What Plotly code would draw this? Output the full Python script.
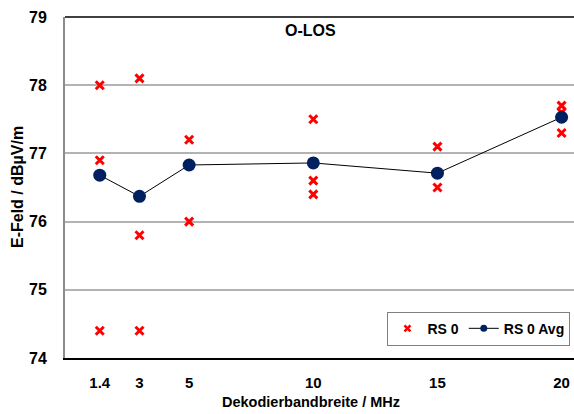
import plotly.graph_objects as go

# Data
bandwidths = [1.4, 3, 5, 10, 15, 20]
rs0_x = [1.4, 1.4, 1.4, 3, 3, 3, 5, 5, 10, 10, 10, 15, 15, 20, 20, 20]
rs0_y = [78.0, 76.9, 74.4, 78.1, 75.8, 74.4, 77.2, 76.0, 77.5, 76.6, 76.4, 77.1, 76.5, 77.7, 77.6, 77.3]
rs0_avg = [76.68, 76.37, 76.83, 76.86, 76.71, 77.53]
x_ticks = [1.4, 3, 5, 10, 15, 20]
x_tick_labels = ["1.4", "3", "5", "10", "15", "20"]
y_ticks = [74, 75, 76, 77, 78, 79]

FONT = "Liberation Sans, Arial, sans-serif"
RED = "#ff0000"
NAVY = "#002060"

fig = go.Figure()
fig.add_trace(go.Scatter(
    x=rs0_x, y=rs0_y, mode="markers", name="RS 0", showlegend=False,
    legendgroup="rs0",
    marker=dict(symbol="x-thin", size=8, color=RED, line=dict(color=RED, width=3)),
))
fig.add_trace(go.Scatter(
    x=bandwidths, y=rs0_avg, mode="lines+markers", name="RS 0 Avg", showlegend=False,
    legendgroup="avg",
    line=dict(color="#000000", width=1),
    marker=dict(symbol="circle", size=13, color=NAVY),
))
# legend-only entries (no data) with smaller glyphs, like the reference legend
fig.add_trace(go.Scatter(
    x=[None], y=[None], mode="markers", name="RS 0", legendgroup="rs0",
    marker=dict(symbol="x-thin", size=6, color=RED, line=dict(color=RED, width=2.5)),
))
fig.add_trace(go.Scatter(
    x=[None], y=[None], mode="lines+markers", name="RS 0 Avg", legendgroup="avg",
    line=dict(color="#000000", width=1),
    marker=dict(symbol="circle", size=7, color=NAVY),
))

fig.update_layout(
    width=574, height=414,
    margin=dict(l=65, r=0, t=17, b=56),
    paper_bgcolor="white", plot_bgcolor="white",
    font=dict(family=FONT, color="#000000"),
    showlegend=True,
    legend=dict(
        x=0.993, y=0.036, xanchor="right", yanchor="bottom",
        orientation="h", bordercolor="#808080", borderwidth=1,
        bgcolor="white", font=dict(family=FONT, size=14, weight="bold"),
        itemclick=False, itemdoubleclick=False,
    ),
    xaxis=dict(
        range=[0, 20.5], tickvals=x_ticks, ticktext=x_tick_labels,
        showgrid=False, zeroline=False,
        showline=True, linecolor="#000000", linewidth=1.5,
        ticks="", ticklabelstandoff=10,
        tickfont=dict(family=FONT, size=15, weight="bold"),
    ),
    yaxis=dict(
        range=[74, 79], tickvals=y_ticks,
        showgrid=True, gridcolor="#b3b3b3", gridwidth=1.5,
        zeroline=False,
        showline=True, linecolor="#8c8c8c", linewidth=2,
        ticks="", ticklabelstandoff=13,
        tickfont=dict(family=FONT, size=16, weight="bold"),
    ),
    annotations=[
        dict(text="O-LOS", xref="paper", yref="paper", x=(310.5 - 65) / 509, y=(358 - 31) / 341,
             xanchor="center", yanchor="middle", showarrow=False,
             font=dict(family=FONT, size=16, weight="bold")),
        dict(text="Dekodierbandbreite / MHz", xref="paper", yref="paper",
             x=(311 - 65) / 509, y=(358 - 402) / 341, xanchor="center", yanchor="middle",
             showarrow=False, font=dict(family=FONT, size=14.5, weight="bold")),
        dict(text="E-Feld / dBµV/m", xref="paper", yref="paper",
             x=(17 - 65) / 509, y=(358 - 187) / 341, xanchor="center", yanchor="middle",
             showarrow=False, textangle=-90,
             font=dict(family=FONT, size=16, weight="bold")),
    ],
    shapes=[
        dict(type="line", xref="paper", yref="paper", x0=0, x1=1, y0=1, y1=1,
             line=dict(color="#000000", width=1.5)),
    ],
)

fig.write_html("out.html")
